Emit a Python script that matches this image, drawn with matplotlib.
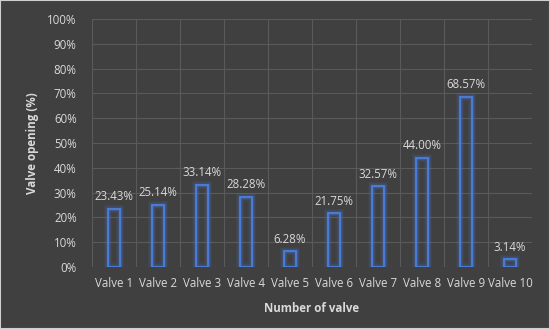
import matplotlib.pyplot as plt
import numpy as np

valves = ['Valve 1', 'Valve 2', 'Valve 3', 'Valve 4', 'Valve 5',
          'Valve 6', 'Valve 7', 'Valve 8', 'Valve 9', 'Valve 10']
opening = [23.43, 25.14, 33.14, 28.28, 6.28, 21.75, 32.57, 44.00, 68.57, 3.14]

bg = '#404040'
txt = '#d9d9d9'
blue = '#4a7fe0'

plt.rcParams['font.family'] = ['Open Sans', 'DejaVu Sans']

fig = plt.figure(figsize=(5.5, 3.29), dpi=100, facecolor=bg)
ax = fig.add_axes([92/550, 1-267/329, 440/550, (267-19)/329])
ax.set_facecolor(bg)

x = np.arange(len(valves))
# glow
for lw, a in [(6, 0.08), (4, 0.15), (2.5, 0.25)]:
    ax.bar(x, opening, width=0.27, facecolor='none', edgecolor=blue, linewidth=lw, alpha=a, zorder=3)
bars = ax.bar(x, opening, width=0.27, facecolor='none', edgecolor=blue, linewidth=1.3, zorder=4)

for xi, v in zip(x, opening):
    ax.text(xi, v + 2.2, '%.2f%%' % v, ha='center', va='bottom', color=txt, fontsize=8.3)

ax.set_xlim(-0.5, len(valves) - 0.5)
ax.set_ylim(0, 100)
ax.set_yticks(np.arange(0, 101, 10))
ax.set_yticklabels(['%d%%' % t for t in range(0, 101, 10)])
ax.set_xticks(x)
ax.set_xticklabels(valves)
ax.set_xticks(np.arange(-0.5, len(valves)), minor=True)
ax.grid(True, axis='y', color='#5a5a5a', linewidth=0.8, zorder=0)
ax.grid(True, axis='x', which='minor', color='#5a5a5a', linewidth=0.8, zorder=0)
ax.tick_params(which='both', length=0, colors=txt, labelsize=8.3)
ax.tick_params(axis='x', pad=7)
ax.tick_params(axis='y', pad=11)
for s in ax.spines.values():
    s.set_visible(False)

ax.set_ylabel('Valve opening (%)', color=txt, fontsize=8.3, fontweight='bold', labelpad=6)
ax.set_xlabel('Number of valve', color=txt, fontsize=8.3, fontweight='bold', labelpad=9)

fig.patches.append(plt.Rectangle((0, 0), 1, 1, transform=fig.transFigure,
                                 fill=False, edgecolor='#cfcfcf', linewidth=1.5))

plt.savefig('out.png', dpi=100, facecolor=bg)
